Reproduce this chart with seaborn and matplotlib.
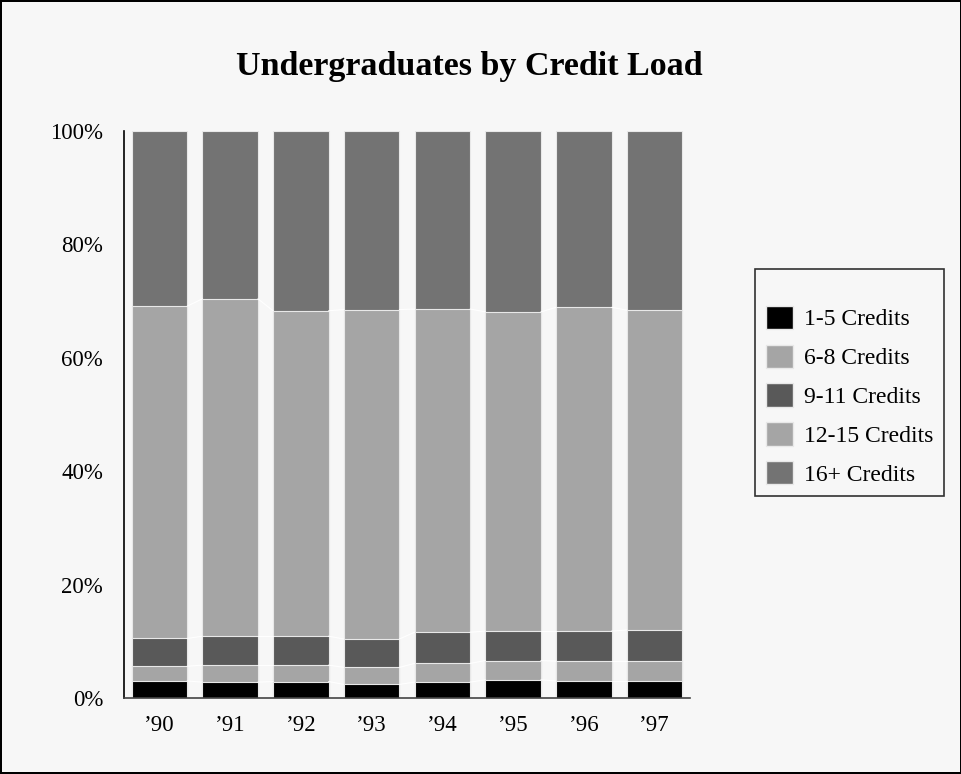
import matplotlib
matplotlib.use("Agg")
import matplotlib.pyplot as plt
import seaborn as sns
import numpy as np
import pandas as pd
from matplotlib.patches import Patch

years = ["’90", "’91", "’92", "’93", "’94", "’95", "’96", "’97"]
c1_5 = [3.0, 2.8, 2.9, 2.4, 2.8, 3.2, 3.0, 3.0]
c6_8 = [2.6, 3.0, 2.9, 3.0, 3.3, 3.4, 3.5, 3.5]
c9_11 = [4.9, 5.1, 5.1, 5.0, 5.5, 5.2, 5.3, 5.5]
c12_15 = [58.6, 59.5, 57.4, 58.1, 57.0, 56.3, 57.1, 56.4]
c16 = [30.9, 29.6, 31.7, 31.5, 31.4, 31.9, 31.1, 31.6]

series_names = ["1-5 Credits", "6-8 Credits", "9-11 Credits", "12-15 Credits", "16+ Credits"]
series_vals = [c1_5, c6_8, c9_11, c12_15, c16]
colors = ["#000000", "#a5a5a5", "#595959", "#a5a5a5", "#737373"]

sns.set_style("white")
plt.rcParams["font.family"] = ["Liberation Serif", "DejaVu Serif"]
plt.rcParams["text.color"] = "black"

fig = plt.figure(figsize=(9.62, 7.74), dpi=100)
fig.patch.set_facecolor("#f7f7f7")
fig.patch.set_edgecolor("black")
fig.patch.set_linewidth(1.5)
ax = fig.add_axes([124/962, 1-698/774, 566/962, 567/774])
ax.set_facecolor("#f7f7f7")

vals = np.array(series_vals)
totals = vals.sum(axis=0)
norm = vals / totals * 100
cum = np.cumsum(norm, axis=0)

width = 0.786
for i in range(len(series_names) - 1, -1, -1):
    df = pd.DataFrame({"year": years, "v": cum[i]})
    sns.barplot(data=df, x="year", y="v", color=colors[i], width=width,
                edgecolor="#e8e8e8", linewidth=0.8, saturation=1, ax=ax)

# connector lines
xs = np.arange(len(years))
for i in range(len(series_names) - 1):
    for j in range(len(years) - 1):
        ax.plot([xs[j] + width/2, xs[j+1] - width/2], [cum[i][j], cum[i][j+1]],
                color="white", lw=0.8, zorder=3)

ax.set_xlim(-0.5, len(years) - 0.5)
ax.set_ylim(0, 100)
ax.set_yticks([0, 20, 40, 60, 80, 100])
ax.set_yticklabels([f"{t}%" for t in [0, 20, 40, 60, 80, 100]])
ax.set_xlabel("")
ax.set_ylabel("")
ax.tick_params(axis="both", length=0, labelsize=16.5, colors="black")
ax.tick_params(axis="y", pad=15)
ax.tick_params(axis="x", pad=12)
for s in ["top", "right"]:
    ax.spines[s].set_visible(False)
ax.spines["left"].set_color("black")
ax.spines["bottom"].set_color("#444444")
ax.spines["left"].set_linewidth(1.2)
ax.spines["bottom"].set_linewidth(1.2)

fig.text(469/962, 1-75/774, "Undergraduates by Credit Load", ha="center", va="baseline",
         fontsize=24.5, fontweight="bold", color="black")

handles = [Patch(facecolor=colors[i], edgecolor="#e8e8e8") for i in range(len(series_names))]
leg = fig.legend(handles, series_names, loc="upper left",
                 bbox_to_anchor=(755/962, 1-269/774), bbox_transform=fig.transFigure,
                 borderaxespad=0, fontsize=17, title=" ",
                 title_fontsize=9, frameon=True, fancybox=False,
                 handlelength=1.14, handleheight=1.14, labelspacing=0.6,
                 borderpad=0.45, handletextpad=0.5)
leg.get_frame().set_edgecolor("black")
leg.get_frame().set_facecolor("#f7f7f7")
leg.get_frame().set_linewidth(1.2)
for t in leg.get_texts():
    t.set_color("black")

fig.savefig("out.png", dpi=100, facecolor=fig.get_facecolor(), edgecolor=fig.get_edgecolor())
